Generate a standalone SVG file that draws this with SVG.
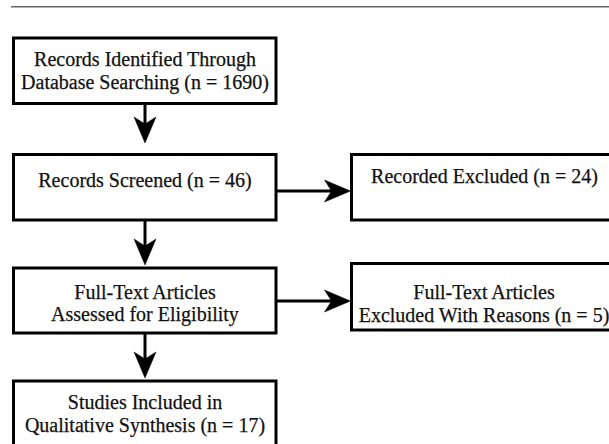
<svg xmlns="http://www.w3.org/2000/svg" width="609" height="444" viewBox="0 0 609 444">
<defs>
<style>
.box{fill:#fff;stroke:#000;stroke-width:3}
.t{font-family:"Liberation Serif","Times New Roman",serif;font-size:20px;fill:#111;stroke:#111;stroke-width:0.25;text-anchor:middle}
.ln{stroke:#000;stroke-width:3;fill:none}
.ah{fill:#000;stroke:#000;stroke-width:0.5;stroke-linejoin:miter}
</style>
</defs>
<rect width="609" height="444" fill="#fff"/>
<line x1="11" y1="6.7" x2="609" y2="6.7" stroke="#666" stroke-width="1.6"/>
<g id="connectors">
<line class="ln" x1="145" y1="103.5" x2="145" y2="128"/>
<path class="ah" d="M134,117 L145,143 L156,117 L145,124 Z"/>
<line class="ln" x1="145" y1="220" x2="145" y2="250"/>
<path class="ah" d="M134,239 L145,265 L156,239 L145,246 Z"/>
<line class="ln" x1="145" y1="333" x2="145" y2="363"/>
<path class="ah" d="M134,352 L145,378 L156,352 L145,359 Z"/>
<line class="ln" x1="276" y1="191" x2="336" y2="191"/>
<path class="ah" d="M324.5,180 L350.5,191 L324.5,202 L331.5,191 Z"/>
<line class="ln" x1="276" y1="301" x2="336" y2="301"/>
<path class="ah" d="M324.5,290 L350.5,301 L324.5,312 L331.5,301 Z"/>
</g>
<g id="identified">
<rect class="box" x="13.5" y="38" width="262.5" height="65.5"/>
<text class="t" x="145" y="65.5">Records Identified Through</text>
<text class="t" x="145" y="88.5">Database Searching (n = 1690)</text>
</g>
<g id="screened">
<rect class="box" x="13.5" y="154.5" width="262.5" height="65.5"/>
<text class="t" x="145" y="186.5">Records Screened (n = 46)</text>
</g>
<g id="excluded">
<rect class="box" x="351.5" y="154.5" width="266" height="65.5"/>
<text class="t" x="484.5" y="182.5">Recorded Excluded (n = 24)</text>
</g>
<g id="assessed">
<rect class="box" x="13.5" y="268" width="262.5" height="65"/>
<text class="t" x="145" y="298.5">Full-Text Articles</text>
<text class="t" x="145" y="321">Assessed for Eligibility</text>
</g>
<g id="excluded-reasons">
<rect class="box" x="351.5" y="263.5" width="266" height="66.5"/>
<text class="t" x="484" y="298.5">Full-Text Articles</text>
<text class="t" x="484" y="321.5">Excluded With Reasons (n = 5)</text>
</g>
<g id="included">
<rect class="box" x="13.5" y="381" width="262.5" height="70"/>
<text class="t" x="145" y="408.5">Studies Included in</text>
<text class="t" x="145" y="431.5">Qualitative Synthesis (n = 17)</text>
</g>
</svg>
